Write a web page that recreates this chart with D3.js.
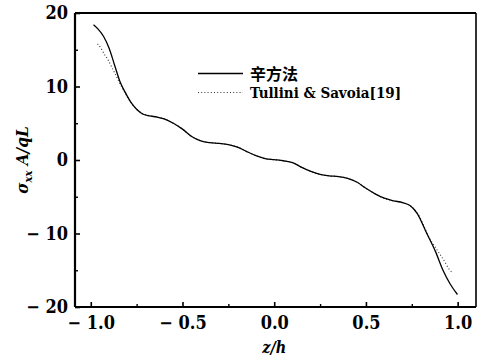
<!DOCTYPE html>
<html>
<head>
<meta charset="utf-8">
<script src="https://cdn.jsdelivr.net/npm/d3@7"></script>
<style>
  html, body { margin: 0; padding: 0; background: #fff; }
  svg { display: block; }
  .serif { font-family: "DejaVu Serif Condensed", "DejaVu Serif", serif; font-stretch: condensed; }
  .tick-label { font-family: "DejaVu Serif Condensed", "DejaVu Serif", serif; font-stretch: condensed; font-weight: bold; font-size: 18px; fill: #000; }
</style>
</head>
<body>
<svg id="chart" width="483" height="361"></svg>
<script>
// Solid curve: present method (辛方法)
const symplecticZ = [-0.985, -0.96, -0.93, -0.90, -0.87, -0.84, -0.81, -0.78, -0.75, -0.72, -0.68, -0.64, -0.60, -0.55, -0.50, -0.45, -0.40, -0.35, -0.30, -0.25, -0.20, -0.15, -0.10, -0.05, 0.0, 0.05, 0.10, 0.15, 0.20, 0.25, 0.30, 0.35, 0.40, 0.45, 0.50, 0.55, 0.60, 0.65, 0.70, 0.74, 0.78, 0.83, 0.88, 0.92, 0.96, 0.999];
const symplecticS = [18.4, 17.8, 16.8, 15.2, 12.9, 10.6, 9.1, 7.8, 6.9, 6.3, 6.0, 5.85, 5.6, 5.0, 4.2, 3.2, 2.6, 2.35, 2.25, 2.1, 1.75, 1.15, 0.6, 0.2, 0.05, -0.1, -0.35, -1.0, -1.55, -1.95, -2.15, -2.25, -2.5, -3.0, -3.85, -4.6, -5.2, -5.55, -5.8, -6.2, -7.3, -9.9, -12.5, -15.0, -16.9, -18.3];

// Dotted curve: Tullini & Savoia [19]
const tulliniZ = [-0.963, -0.944, -0.926, -0.91, -0.885, -0.861, -0.839, -0.81, -0.78, -0.75, -0.72, -0.68, -0.64, -0.60, -0.55, -0.50, -0.45, -0.40, -0.35, -0.30, -0.25, -0.20, -0.15, -0.10, -0.05, 0.0, 0.05, 0.10, 0.15, 0.20, 0.25, 0.30, 0.35, 0.40, 0.45, 0.50, 0.55, 0.60, 0.65, 0.70, 0.74, 0.78, 0.82, 0.85, 0.868, 0.895, 0.926, 0.955, 0.975];
const tulliniS = [15.8, 15.2, 14.4, 13.8, 12.6, 11.4, 10.3, 9.0, 7.8, 6.9, 6.35, 6.05, 5.85, 5.6, 5.0, 4.2, 3.2, 2.6, 2.35, 2.25, 2.1, 1.75, 1.15, 0.6, 0.2, 0.05, -0.1, -0.35, -1.0, -1.55, -1.95, -2.15, -2.25, -2.5, -3.0, -3.85, -4.6, -5.2, -5.55, -5.8, -6.2, -7.2, -9.2, -10.8, -11.5, -12.5, -13.7, -14.9, -15.4];

const xMajor = [-1.0, -0.5, 0.0, 0.5, 1.0];
const xMinor = [-0.75, -0.25, 0.25, 0.75];
const yMajor = [20, 10, 0, -10, -20];
const yMinor = [15, 5, -5, -15];
const legendNames = ["辛方法", "Tullini & Savoia[19]"];

const margin = { left: 75, right: 7, top: 13, bottom: 54 };
const W = 483, H = 361;
const svg = d3.select("#chart");

const x = d3.scaleLinear().domain([-1.086, 1.1]).range([margin.left, W - margin.right]);
const y = d3.scaleLinear().domain([-20, 20]).range([H - margin.bottom, margin.top]);

const fmtX = d => (d < 0 ? "\u2212 " : "") + Math.abs(d).toFixed(1);
const fmtY = d => (d < 0 ? "\u2212 " : "") + Math.abs(d);

// Bottom axis: inward ticks
const xAxis = d3.axisBottom(x).tickValues(xMajor).tickSize(-5).tickPadding(8).tickFormat(fmtX);
const gx = svg.append("g").attr("transform", `translate(0,${y(-20)})`).call(xAxis);
gx.attr("font-family", null).attr("font-size", null);
gx.select(".domain").remove();
gx.selectAll(".tick line").attr("stroke", "#000").attr("stroke-width", 1.6);
gx.selectAll(".tick text").attr("class", "tick-label").attr("dy", "0.75em");
svg.append("g").attr("transform", `translate(0,${y(-20)})`)
  .call(d3.axisBottom(x).tickValues(xMinor).tickSize(-3).tickFormat(""))
  .call(g => g.select(".domain").remove())
  .selectAll(".tick line").attr("stroke", "#000").attr("stroke-width", 1.4);

// Left axis: inward ticks
const yAxis = d3.axisLeft(y).tickValues(yMajor).tickSize(-5).tickPadding(7).tickFormat(fmtY);
const gy = svg.append("g").attr("transform", `translate(${x.range()[0]},0)`).call(yAxis);
gy.attr("font-family", null).attr("font-size", null);
gy.select(".domain").remove();
gy.selectAll(".tick line").attr("stroke", "#000").attr("stroke-width", 1.6);
gy.selectAll(".tick text").attr("class", "tick-label");
svg.append("g").attr("transform", `translate(${x.range()[0]},0)`)
  .call(d3.axisLeft(y).tickValues(yMinor).tickSize(-3).tickFormat(""))
  .call(g => g.select(".domain").remove())
  .selectAll(".tick line").attr("stroke", "#000").attr("stroke-width", 1.4);

// Frame
const [x0, x1] = x.range();
const [yb, yt] = y.range();
svg.append("line").attr("x1", x0).attr("x2", x1).attr("y1", yt).attr("y2", yt).attr("stroke", "#000").attr("stroke-width", 2.2);
svg.append("line").attr("x1", x0).attr("x2", x1).attr("y1", yb).attr("y2", yb).attr("stroke", "#000").attr("stroke-width", 2.2);
svg.append("line").attr("x1", x0).attr("x2", x0).attr("y1", yt).attr("y2", yb).attr("stroke", "#000").attr("stroke-width", 2.2);
svg.append("line").attr("x1", x1).attr("x2", x1).attr("y1", yt).attr("y2", yb).attr("stroke", "#000").attr("stroke-width", 1.6);

// Curves
const line = d3.line().x(d => x(d[0])).y(d => y(d[1])).curve(d3.curveMonotoneX);
svg.append("path")
  .datum(tulliniZ.map((z, i) => [z, tulliniS[i]]))
  .attr("d", line).attr("fill", "none").attr("stroke", "#333")
  .attr("stroke-width", 1.1).attr("stroke-dasharray", "1,2.2");
svg.append("path")
  .datum(symplecticZ.map((z, i) => [z, symplecticS[i]]))
  .attr("d", line).attr("fill", "none").attr("stroke", "#000").attr("stroke-width", 1.3);

// Legend
const legend = svg.append("g");
const legendY = [73.5, 92.5];
legend.append("line").attr("x1", 198).attr("x2", 243).attr("y1", legendY[0]).attr("y2", legendY[0])
  .attr("stroke", "#000").attr("stroke-width", 1.3);
legend.append("line").attr("x1", 198).attr("x2", 243).attr("y1", legendY[1]).attr("y2", legendY[1])
  .attr("stroke", "#333").attr("stroke-width", 1.1).attr("stroke-dasharray", "1,2.2");
legend.append("text").attr("x", 250).attr("y", legendY[0] + 6)
  .attr("font-family", "'Noto Sans CJK SC', sans-serif").attr("font-weight", "bold").attr("font-size", 16)
  .text(legendNames[0]);
legend.append("text").attr("class", "serif").attr("x", 250).attr("y", legendY[1] + 5)
  .attr("font-weight", "bold").attr("font-size", 15)
  .text(legendNames[1]);

// Axis titles
svg.append("text").attr("class", "serif").attr("x", x(0)).attr("y", 353).attr("text-anchor", "middle")
  .attr("font-style", "italic").attr("font-weight", "bold").attr("font-size", 16)
  .text("z/h");
const yt2 = svg.append("text").attr("class", "serif").attr("transform", `translate(28,${y(0)}) rotate(-90)`).attr("text-anchor", "middle")
  .attr("font-style", "italic").attr("font-weight", "bold").attr("font-size", 17);
yt2.append("tspan").text("σ");
yt2.append("tspan").attr("font-size", 11).attr("dy", 4).text("xx");
yt2.append("tspan").attr("dy", -4).text(" A/qL");
</script>
</body>
</html>
